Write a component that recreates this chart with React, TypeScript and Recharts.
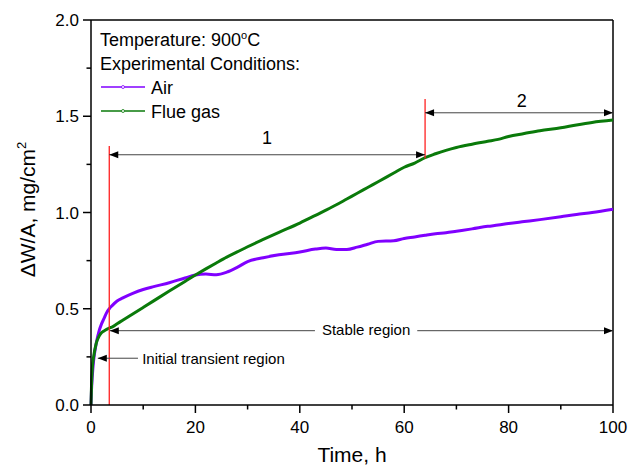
import React from "react";
import {
  LineChart,
  Line,
  XAxis,
  YAxis,
  Legend,
  ReferenceLine,
  ReferenceDot,
} from "recharts";

const times = [
  0, 0.1, 0.25, 0.5, 1, 1.5, 2, 2.5, 3, 3.5, 4, 5, 6, 8, 10, 12, 15, 18, 20, 22, 24, 26, 28, 30, 33, 36, 40,
  43, 45, 47, 49, 51, 53, 55, 58, 60, 62, 64, 66, 68, 70, 73, 76, 78, 80, 83, 86, 90, 93, 96, 100,
];
const air = [
  0, 0.08, 0.15, 0.23, 0.32, 0.38, 0.42, 0.45, 0.48, 0.5, 0.515, 0.54, 0.555, 0.58, 0.6, 0.615, 0.635, 0.66,
  0.675, 0.68, 0.677, 0.69, 0.715, 0.745, 0.765, 0.78, 0.795, 0.81, 0.815, 0.808, 0.808, 0.82, 0.835, 0.85,
  0.853, 0.865, 0.873, 0.882, 0.89, 0.895, 0.903, 0.915, 0.928, 0.935, 0.943, 0.953, 0.963, 0.978, 0.99, 1.0,
  1.017,
];
const flueGas = [
  0, 0.1, 0.19, 0.25, 0.32, 0.355, 0.375, 0.385, 0.393, 0.4, 0.405, 0.422, 0.439, 0.473, 0.507, 0.541, 0.592,
  0.642, 0.675, 0.707, 0.738, 0.768, 0.795, 0.822, 0.86, 0.897, 0.945, 0.985, 1.012, 1.04, 1.07, 1.1, 1.13,
  1.16, 1.205, 1.235, 1.257, 1.285, 1.305, 1.323, 1.338, 1.355, 1.37, 1.38, 1.395, 1.41, 1.425, 1.44, 1.455,
  1.468, 1.48,
];

const xTicks = [0, 10, 20, 30, 40, 50, 60, 70, 80, 90, 100];
const yTicks = [0, 0.25, 0.5, 0.75, 1, 1.25, 1.5, 1.75, 2];

// region markers (h) and arrow heights (mg/cm2)
const redLines = [
  { t: 3.5, from: 0, to: 1.345 },
  { t: 64, from: 1.28, to: 1.59 },
];
const arrows = [
  { x1: 3.5, x2: 64, y: 1.3, start: true, end: true },
  { x1: 64, x2: 100, y: 1.518, start: true, end: true },
  { x1: 3.6, x2: 42.9, y: 0.386, start: true, end: false },
  { x1: 62.5, x2: 100, y: 0.386, start: false, end: true },
  { x1: 1.3, x2: 9, y: 0.243, start: true, end: false },
];
const notes = [
  { t: 33.7, v: 1.356, text: "1", size: 18, anchor: "middle" },
  { t: 82.5, v: 1.55, text: "2", size: 18, anchor: "middle" },
  { t: 52.7, v: 0.364, text: "Stable region", size: 15, anchor: "middle" },
  { t: 9.8, v: 0.213, text: "Initial transient region", size: 15, anchor: "start" },
];

const data = times.map((t, i) => ({ t, air: air[i], flue: flueGas[i] }));

const FONT = '"Liberation Sans", Arial, sans-serif';

const XTick = ({ x, y, payload }: any) => {
  const major = payload.value % 20 === 0;
  return (
    <g>
      <line x1={x} y1={y} x2={x} y2={y + (major ? 8 : 4.5)} stroke="#000" strokeWidth={1.5} />
      {major && (
        <text x={x} y={y + 28} textAnchor="middle" fontSize={17} fontFamily={FONT} fill="#000">
          {payload.value}
        </text>
      )}
    </g>
  );
};

const YTick = ({ x, y, payload }: any) => {
  const major = (payload.value * 4) % 2 === 0;
  return (
    <g>
      <line x1={x - (major ? 8 : 4.5)} y1={y} x2={x} y2={y} stroke="#000" strokeWidth={1.5} />
      {major && (
        <text x={x - 12} y={y + 6} textAnchor="end" fontSize={17} fontFamily={FONT} fill="#000">
          {payload.value.toFixed(1)}
        </text>
      )}
    </g>
  );
};

const YTitle = ({ viewBox }: any) => {
  const x = viewBox.x + 4;
  const y = viewBox.y + viewBox.height / 2 - 3;
  return (
    <text
      x={x}
      y={y}
      transform={`rotate(-90, ${x}, ${y})`}
      textAnchor="middle"
      fontSize={21}
      fontFamily={FONT}
      fill="#000"
    >
      ΔW/A, mg/cm
      <tspan fontSize={13} dy={-9}>
        2
      </tspan>
    </text>
  );
};

const XTitle = ({ viewBox }: any) => (
  <text
    x={viewBox.x + viewBox.width / 2}
    y={viewBox.y + 57}
    textAnchor="middle"
    fontSize={21}
    fontFamily={FONT}
    fill="#000"
  >
    Time, h
  </text>
);

const arrowShape = (start: boolean, end: boolean) => (p: any) => {
  const { x1, y1, x2, y2 } = p;
  const head = (tx: number, ty: number, dir: number) =>
    `${tx},${ty} ${tx - dir * 9},${ty - 3.5} ${tx - dir * 9},${ty + 3.5}`;
  return (
    <g>
      <line x1={x1} y1={y1} x2={x2} y2={y2} stroke="#444" strokeWidth={1} />
      {start && <polygon points={head(x1, y1, -1)} fill="#000" />}
      {end && <polygon points={head(x2, y2, 1)} fill="#000" />}
    </g>
  );
};

const noteShape = (text: string, size: number, anchor: string) => (p: any) => (
  <text x={p.cx} y={p.cy} textAnchor={anchor as any} fontSize={size} fontFamily={FONT} fill="#000">
    {text}
  </text>
);

const LegendBox = ({ payload }: any) => (
  <div style={{ fontFamily: FONT, fontSize: 18, lineHeight: "24px", color: "#000" }}>
    <div>
      Temperature: 900
      <span style={{ fontSize: 11, verticalAlign: "top", lineHeight: "14px" }}>o</span>C
    </div>
    <div>Experimental Conditions:</div>
    {(payload || []).map((entry: any) => (
      <div key={entry.value} style={{ display: "flex", alignItems: "center", height: 24 }}>
        <svg width={46} height={24} style={{ display: "block" }}>
          <line x1={1} y1={11} x2={45} y2={11} stroke={entry.color} strokeWidth={1.5} />
          <circle cx={23} cy={11} r={1.5} fill="#fff" stroke={entry.color} strokeWidth={0.8} />
        </svg>
        <span style={{ marginLeft: 5 }}>{entry.value}</span>
      </div>
    ))}
  </div>
);

export default function App() {
  return (
    <div style={{ position: "absolute", left: 0, top: 0, background: "#fff" }}>
      <LineChart width={641} height={472} data={data} margin={{ top: 20, right: 28, bottom: 37, left: 31 }}>
        <XAxis
          dataKey="t"
          type="number"
          domain={[0, 100]}
          ticks={xTicks}
          interval={0}
          tickSize={0}
          tickMargin={0}
          tickLine={false}
          tick={<XTick />}
          height={30}
          axisLine={{ stroke: "#000", strokeWidth: 1.5 }}
          label={<XTitle />}
        />
        <YAxis
          type="number"
          domain={[0, 2]}
          ticks={yTicks}
          interval={0}
          tickSize={0}
          tickMargin={0}
          tickLine={false}
          tick={<YTick />}
          width={60}
          axisLine={{ stroke: "#000", strokeWidth: 1.5 }}
          label={<YTitle />}
        />
        <ReferenceLine y={2} stroke="#000" strokeWidth={1.5} />
        <ReferenceLine x={100} stroke="#000" strokeWidth={1.5} />
        <Legend
          layout="vertical"
          verticalAlign="middle"
          align="center"
          content={<LegendBox />}
          wrapperStyle={{ left: 100, top: 28, width: 300 }}
        />
        <Line
          type="monotone"
          dataKey="air"
          name="Air"
          stroke="#8000ff"
          strokeWidth={3}
          dot={false}
          isAnimationActive={false}
        />
        <Line
          type="monotone"
          dataKey="flue"
          name="Flue gas"
          stroke="#0a7a0a"
          strokeWidth={3}
          dot={false}
          isAnimationActive={false}
        />
        {redLines.map((r, i) => (
          <ReferenceLine
            key={"r" + i}
            segment={[
              { x: r.t, y: r.from },
              { x: r.t, y: r.to },
            ]}
            stroke="#ff2020"
            strokeWidth={1.3}
          />
        ))}
        {arrows.map((a, i) => (
          <ReferenceLine
            key={"a" + i}
            segment={[
              { x: a.x1, y: a.y },
              { x: a.x2, y: a.y },
            ]}
            shape={arrowShape(a.start, a.end)}
          />
        ))}
        {notes.map((n, i) => (
          <ReferenceDot key={"n" + i} x={n.t} y={n.v} r={0} shape={noteShape(n.text, n.size, n.anchor)} />
        ))}
      </LineChart>
    </div>
  );
}
